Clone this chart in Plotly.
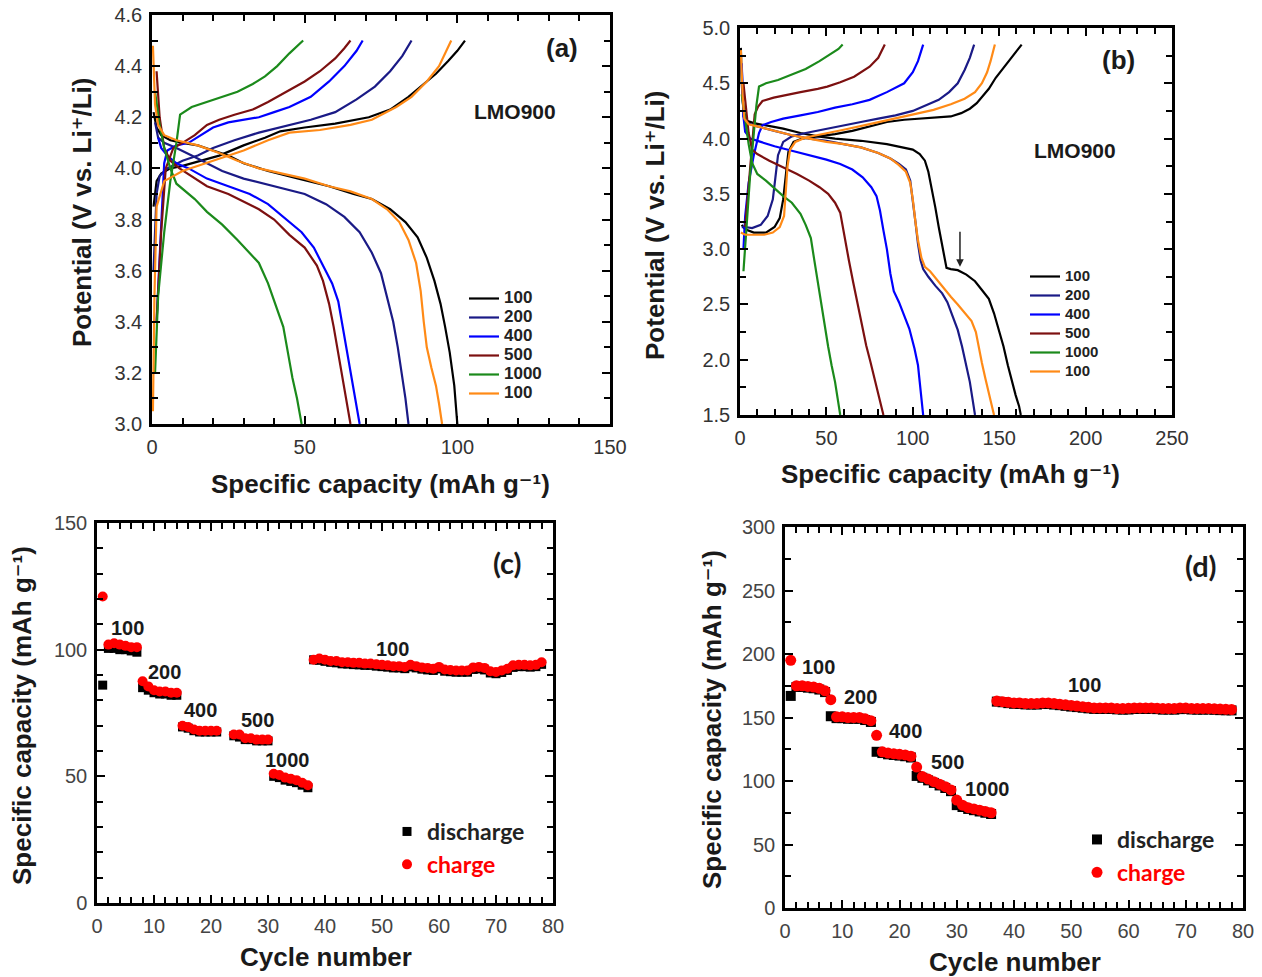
import plotly.graph_objects as go

W, H = 1262, 977

# ================= DATA =================
RATE_LABELS = ["100", "200", "400", "500", "1000", "100"]
LINE_COLORS = ["#000000", "#1a1a86", "#0000ff", "#7c1010", "#1b8a1b", "#ff8a16"]

# ---- panel (a): LMO900, 3.0-4.5 V ----
a_chg_100_x = [0.5, 1.5, 3, 6, 10, 16, 22, 30, 37, 42, 50, 60, 71, 78, 84, 89, 93, 97, 100, 102.5]
a_chg_100_y = [3.85, 3.95, 3.98, 4.0, 4.01, 4.03, 4.05, 4.09, 4.12, 4.145, 4.16, 4.175, 4.2, 4.23, 4.28, 4.33, 4.37, 4.42, 4.46, 4.5]
a_dis_100_x = [0.5, 1.5, 3, 6, 10, 15, 20, 25, 30, 38, 48, 58, 66, 72, 78, 83, 87, 90, 92.5, 94.5, 96, 97.5, 99, 100]
a_dis_100_y = [4.22, 4.16, 4.13, 4.11, 4.1, 4.09, 4.07, 4.05, 4.02, 3.99, 3.96, 3.93, 3.9, 3.88, 3.84, 3.79, 3.73, 3.65, 3.56, 3.47, 3.38, 3.28, 3.15, 3.0]

a_chg_200_x = [0.5, 1.5, 2.5, 5, 10, 15, 20, 27, 35, 45, 52, 60, 67, 73, 78, 82, 85]
a_chg_200_y = [3.6, 3.9, 3.97, 4.0, 4.03, 4.05, 4.08, 4.11, 4.14, 4.17, 4.19, 4.22, 4.27, 4.32, 4.38, 4.44, 4.5]
a_dis_200_x = [1, 2, 4, 8, 13, 18, 23, 30, 40, 50, 57, 63, 68, 72, 75, 77, 79, 80.5, 82, 83, 84]
a_dis_200_y = [4.18, 4.12, 4.1, 4.08, 4.05, 4.02, 3.99, 3.96, 3.93, 3.9, 3.86, 3.81, 3.75, 3.67, 3.59, 3.5, 3.4, 3.3, 3.18, 3.1, 3.0]

a_chg_400_x = [1.5, 3, 4, 5, 8, 12, 16, 20, 25, 30, 35, 40, 45, 52, 58, 63, 67, 69]
a_chg_400_y = [3.4, 3.75, 4.02, 4.07, 4.09, 4.1, 4.13, 4.16, 4.18, 4.19, 4.2, 4.22, 4.24, 4.28, 4.34, 4.4, 4.46, 4.5]
a_dis_400_x = [2, 3, 5, 8, 12, 18, 25, 32, 38, 44, 49, 53, 56, 59, 61, 62.5, 64, 65.5, 67, 68]
a_dis_400_y = [4.12, 4.08, 4.05, 4.02, 4.0, 3.96, 3.93, 3.9, 3.86, 3.8, 3.75, 3.69, 3.62, 3.55, 3.48, 3.38, 3.28, 3.18, 3.08, 3.0]

a_chg_500_x = [1.5, 3, 4.5, 7, 10, 14, 18, 22, 27, 33, 38, 44, 50, 55, 60, 63, 65]
a_chg_500_y = [3.4, 3.75, 4.0, 4.08, 4.1, 4.13, 4.17, 4.19, 4.21, 4.23, 4.26, 4.3, 4.34, 4.38, 4.43, 4.47, 4.5]
a_dis_500_x = [1.5, 2.5, 4, 6, 9, 13, 18, 25, 30, 35, 40, 45, 50, 54, 56, 58, 59.5, 61, 62.5, 64, 65]
a_dis_500_y = [4.38, 4.2, 4.08, 4.03, 4.0, 3.97, 3.93, 3.9, 3.87, 3.84, 3.8, 3.74, 3.69, 3.62, 3.56, 3.47, 3.38, 3.28, 3.18, 3.08, 3.0]

a_chg_1000_x = [1, 2, 4, 6, 8, 9.2, 13, 18, 23, 28, 33, 37, 41, 45, 49.5]
a_chg_1000_y = [3.2, 3.5, 3.75, 3.95, 4.1, 4.21, 4.24, 4.26, 4.28, 4.3, 4.33, 4.36, 4.4, 4.45, 4.5]
a_dis_1000_x = [1, 2.5, 4, 6, 8, 10, 14, 18, 23, 28, 32, 35, 38, 41, 43, 44.5, 46, 47.5, 49]
a_dis_1000_y = [4.3, 4.17, 4.08, 4.0, 3.94, 3.92, 3.88, 3.83, 3.78, 3.72, 3.67, 3.63, 3.55, 3.45, 3.38, 3.28, 3.18, 3.1, 3.0]

a_chg_100b_x = [0.3, 0.8, 1.5, 4, 10, 20, 30, 38, 45, 55, 65, 72, 80, 85, 90, 94, 98]
a_chg_100b_y = [3.05, 3.5, 3.85, 3.95, 3.99, 4.03, 4.07, 4.11, 4.14, 4.15, 4.17, 4.19, 4.24, 4.28, 4.34, 4.4, 4.5]
a_dis_100b_x = [0.3, 1, 2, 4, 8, 15, 22, 28, 35, 42, 50, 58, 65, 72, 77, 81, 84, 86.5, 88, 89, 90, 91.5, 93, 94, 95]
a_dis_100b_y = [4.48, 4.25, 4.17, 4.13, 4.11, 4.09, 4.06, 4.03, 4.0, 3.98, 3.96, 3.93, 3.91, 3.88, 3.84, 3.79, 3.72, 3.63, 3.52, 3.4, 3.3, 3.22, 3.15, 3.08, 3.0]

# ---- panel (b): LMO900, 1.5-4.85 V ----
b_chg_100_x = [1, 3, 8, 15, 20, 23, 25, 26.5, 28, 31, 36, 45, 55, 65, 75, 85, 95, 105, 115, 122, 128, 133, 137, 140, 144, 148, 153, 158, 163]
b_chg_100_y = [3.22, 3.18, 3.15, 3.15, 3.2, 3.28, 3.45, 3.7, 3.88, 3.97, 4.0, 4.02, 4.04, 4.07, 4.11, 4.15, 4.17, 4.18, 4.19, 4.2, 4.23, 4.27, 4.32, 4.38, 4.45, 4.55, 4.65, 4.75, 4.85]
b_dis_100_x = [0.5, 1, 2, 4, 8, 15, 25, 35, 45, 55, 70, 85, 95, 100, 104, 107, 109, 111, 113, 115, 117, 118.5, 119.5, 122, 126, 131, 136, 140, 144, 147, 150, 152.5, 155, 157, 159.5, 161.5, 162.5]
b_dis_100_y = [4.82, 4.5, 4.25, 4.16, 4.14, 4.12, 4.09, 4.05, 4.02, 4.0, 3.98, 3.95, 3.92, 3.9, 3.86, 3.8, 3.7, 3.55, 3.38, 3.2, 3.03, 2.88, 2.83, 2.82, 2.81, 2.77, 2.71, 2.63, 2.55, 2.42, 2.25, 2.12, 1.95, 1.82, 1.68, 1.58, 1.5]

b_chg_200_x = [1, 3, 7, 12, 16, 19, 20.5, 22, 25, 30, 38, 50, 60, 70, 80, 90, 100, 108, 115, 121, 126, 130, 133, 135.5]
b_chg_200_y = [3.2, 3.2, 3.19, 3.22, 3.3, 3.45, 3.65, 3.85, 3.97, 4.02, 4.05, 4.09, 4.12, 4.15, 4.18, 4.21, 4.25, 4.3, 4.35, 4.42, 4.5, 4.62, 4.73, 4.85]
b_dis_200_x = [1, 2, 4, 10, 20, 30, 40, 50, 60, 70, 80, 87, 92, 96, 98.5, 100, 101.5, 103, 104.5, 106, 109, 113, 117, 120, 123, 126, 128.5, 131, 133, 134.5, 136]
b_dis_200_y = [4.65, 4.2, 4.14, 4.11, 4.07, 4.03, 4.0, 3.98, 3.95, 3.92, 3.87, 3.82, 3.77, 3.72, 3.62, 3.45, 3.25, 3.05, 2.9, 2.82, 2.75, 2.67, 2.6, 2.52, 2.4, 2.27, 2.12, 1.95, 1.8, 1.65, 1.5]

b_chg_400_x = [2, 3, 5, 8, 11, 13, 18, 25, 35, 45, 55, 65, 75, 85, 95, 100, 103, 106]
b_chg_400_y = [3.0, 3.3, 3.6, 3.85, 4.05, 4.12, 4.15, 4.18, 4.21, 4.24, 4.28, 4.31, 4.35, 4.42, 4.5, 4.6, 4.7, 4.85]
b_dis_400_x = [1, 2, 3, 6, 12, 20, 30, 40, 50, 58, 65, 71, 76, 79, 81, 83, 85, 87, 89, 92, 95, 98, 101, 103, 104, 105, 106]
b_dis_400_y = [4.68, 4.2, 4.06, 4.0, 3.97, 3.93, 3.89, 3.85, 3.81, 3.77, 3.72, 3.65, 3.56, 3.48, 3.35, 3.17, 3.0, 2.78, 2.62, 2.52, 2.4, 2.28, 2.1, 1.95, 1.8, 1.65, 1.5]

b_chg_500_x = [3, 5, 7, 8.5, 10.5, 13, 19.5, 25, 35, 45, 50.5, 58, 66, 75, 80, 83.8]
b_chg_500_y = [3.2, 3.6, 4.0, 4.22, 4.29, 4.34, 4.37, 4.39, 4.42, 4.45, 4.47, 4.51, 4.56, 4.65, 4.73, 4.85]
b_dis_500_x = [2, 3.5, 5, 7, 10, 17, 25, 33, 40, 46, 51, 55, 58, 59.5, 61, 63, 65.5, 68, 70.5, 73, 75.5, 78, 80.5, 83]
b_dis_500_y = [4.5, 4.25, 4.05, 3.9, 3.86, 3.8, 3.74, 3.68, 3.62, 3.56, 3.5, 3.42, 3.33, 3.2, 3.05, 2.9, 2.7, 2.5, 2.3, 2.13, 1.98, 1.82, 1.68, 1.5]

b_chg_1000_x = [2, 4, 6, 8, 9.5, 11, 15, 22, 30.6, 38, 46, 50, 54, 57, 59.4]
b_chg_1000_y = [2.8, 3.3, 3.7, 4.05, 4.3, 4.47, 4.5, 4.53, 4.58, 4.63, 4.7, 4.74, 4.78, 4.81, 4.85]
b_dis_1000_x = [1, 3, 5, 7, 10, 15, 20, 25, 30, 35, 38, 41, 43, 45, 47, 49, 51, 53, 55, 56.5, 58]
b_dis_1000_y = [4.4, 4.15, 3.95, 3.78, 3.68, 3.62, 3.55, 3.48, 3.42, 3.32, 3.22, 3.1, 2.9, 2.7, 2.5, 2.3, 2.12, 1.95, 1.8, 1.65, 1.5]

b_chg_100b_x = [0.5, 3, 8, 14, 19, 23, 25.5, 26.5, 27.5, 29, 32, 38, 48, 60, 75, 90, 102, 112, 122, 130, 136, 140, 143, 145, 147.5]
b_chg_100b_y = [3.15, 3.13, 3.13, 3.13, 3.15, 3.2, 3.3, 3.5, 3.75, 3.9, 3.97, 4.01, 4.04, 4.08, 4.13, 4.18, 4.22, 4.26, 4.31, 4.36, 4.42, 4.5, 4.6, 4.7, 4.85]
b_dis_100b_x = [0.5, 1.5, 2.5, 5, 10, 20, 30, 40, 50, 60, 70, 80, 87, 92, 96, 98.5, 100, 101.5, 103, 105, 107, 110, 114, 118, 122, 126, 130, 134, 136.5, 138, 140, 142, 144, 146, 147]
b_dis_100b_y = [4.8, 4.4, 4.18, 4.13, 4.11, 4.07, 4.03, 4.0, 3.97, 3.95, 3.92, 3.87, 3.82, 3.76, 3.7, 3.6, 3.45, 3.25, 3.08, 2.92, 2.84, 2.8, 2.72, 2.64, 2.57, 2.5, 2.43, 2.35, 2.25, 2.12, 1.97, 1.83, 1.7, 1.58, 1.5]

# ---- panel (c): rate capability ----
c_cycle = [1, 2, 3, 4, 5, 6, 7,
           8, 9, 10, 11, 12, 13, 14,
           15, 16, 17, 18, 19, 20, 21,
           24, 25, 26, 27, 28, 29, 30,
           31, 32, 33, 34, 35, 36, 37,
           38, 39, 40, 41, 42, 43, 44, 45, 46, 47, 48, 49, 50, 51, 52, 53, 54, 55, 56, 57, 58,
           59, 60, 61, 62, 63, 64, 65, 66, 67, 68, 69, 70, 71, 72, 73, 74, 75, 76, 77, 78]
c_discharge = [86, 100.5, 100.5, 100, 100, 99.5, 99,
               85, 84, 83, 82.5, 82.5, 82, 82,
               69.5, 69, 68, 67.5, 67.5, 67.5, 67.5,
               66, 65.5, 64.5, 64.5, 64, 64, 64,
               50, 49.5, 48.5, 48, 47.5, 46.5, 45.5,
               96, 95.8, 95.4, 95, 94.8, 94.4, 94.3, 94.1, 94, 93.8, 93.8, 93.5, 93.3, 93.1, 92.8, 92.8, 92.5, 93.2, 92.8, 92.3, 92,
               91.8, 92.4, 91.5, 91.3, 91.1, 91.1, 91.1, 92.2, 92.4, 92, 90.8, 90.5, 91, 91.8, 93, 93.3, 93.3, 93.1, 93.3, 94.2]
c_charge = [121, 102, 102.5, 102, 101.5, 101, 101,
            87.5, 85.5, 84, 83.5, 83.5, 83, 83,
            70, 69.5, 68.5, 68, 68, 68, 68,
            66.5, 66.5, 65, 65, 64.5, 64.5, 64.5,
            51, 50.5, 49.5, 49, 48.5, 47.5, 46.5,
            96, 96.5, 96, 95.5, 95.5, 95, 95, 94.8, 94.8, 94.5, 94.5, 94.2, 94, 93.8, 93.5, 93.5, 93.2, 94, 93.5, 93, 92.8,
            92.5, 93.2, 92.2, 92, 91.8, 91.8, 91.8, 93, 93.2, 92.8, 91.5, 91.2, 91.8, 92.5, 93.8, 94, 94, 93.8, 94, 95]
c_rate_labels = ["100", "200", "400", "500", "1000", "100"]
c_rate_label_x = [5.4, 11.9, 18.1, 28.1, 33.5, 51.8]
c_rate_label_y = [108.6, 91.2, 76.2, 72.2, 56.5, 100.3]

# ---- panel (d): rate capability ----
d_cycle = [1, 2, 3, 4, 5, 6, 7,
           8, 9, 10, 11, 12, 13, 14, 15,
           16, 17, 18, 19, 20, 21, 22,
           23, 24, 25, 26, 27, 28, 29,
           30, 31, 32, 33, 34, 35, 36,
           37, 38, 39, 40, 41, 42, 43, 44, 45, 46, 47, 48, 49, 50, 51, 52, 53, 54, 55, 56, 57,
           58, 59, 60, 61, 62, 63, 64, 65, 66, 67, 68, 69, 70, 71, 72, 73, 74, 75, 76, 77, 78]
d_discharge = [167, 174, 174, 173.5, 173, 172, 170,
               151, 149.5, 149.5, 149, 149, 149, 148, 146.5,
               123, 122, 121, 120.5, 120, 119.5, 118.5,
               104, 102.5, 100.5, 98.5, 96.5, 94.5, 92,
               81, 79.5, 78, 77, 76, 75, 74,
               162.5, 162, 161.3, 160.8, 160.7, 160.3, 160.2, 160.2, 160.7, 160.6, 160.2, 159.7, 159.2, 158.6, 158.2, 157.7, 157.2, 156.8, 156.7, 156.8, 156.7,
               156.4, 156.2, 156.3, 156.7, 156.8, 156.7, 156.9, 156.6, 156.2, 156.3, 156.2, 156.6, 156.7, 156.3, 156.2, 156.2, 156.3, 156.1, 155.8, 155.7, 155.6]
d_charge = [195, 175, 175, 174.5, 174, 173, 171,
            164, 150.5, 150.5, 150, 150, 150, 149, 147.5,
            136, 123, 122, 121.5, 121, 120.5, 119.5,
            111, 103.5, 101.5, 99.5, 97.5, 95.5, 93,
            85, 81, 79, 78, 77, 76, 75,
            163, 162.5, 162, 161.5, 161.5, 161, 161, 161, 161.5, 161.5, 161, 160.5, 160, 159.5, 159, 158.5, 158, 157.5, 157.5, 157.5, 157.5,
            157, 157, 157.2, 157.5, 157.5, 157.5, 157.5, 157.3, 157, 157, 157, 157.5, 157.4, 157, 157, 157, 157, 156.8, 156.6, 156.5, 156.3]
d_rate_labels = ["100", "200", "400", "500", "1000", "100"]
d_rate_label_x = [5.8, 13.1, 21.0, 28.3, 35.3, 52.4]
d_rate_label_y = [189.8, 166.1, 139.4, 115.0, 93.7, 175.6]

# ================= FIGURE =================
def px_x(p):
    return p / W

def px_y(p):
    return 1 - p / H

ARIAL = "Arial, 'Liberation Sans', 'DejaVu Sans', sans-serif"
CALIBRI = "Lato, 'Open Sans', sans-serif"

fig = go.Figure()

a_curves = [
    (a_chg_100_x, a_chg_100_y, a_dis_100_x, a_dis_100_y),
    (a_chg_200_x, a_chg_200_y, a_dis_200_x, a_dis_200_y),
    (a_chg_400_x, a_chg_400_y, a_dis_400_x, a_dis_400_y),
    (a_chg_500_x, a_chg_500_y, a_dis_500_x, a_dis_500_y),
    (a_chg_1000_x, a_chg_1000_y, a_dis_1000_x, a_dis_1000_y),
    (a_chg_100b_x, a_chg_100b_y, a_dis_100b_x, a_dis_100b_y),
]
b_curves = [
    (b_chg_100_x, b_chg_100_y, b_dis_100_x, b_dis_100_y),
    (b_chg_200_x, b_chg_200_y, b_dis_200_x, b_dis_200_y),
    (b_chg_400_x, b_chg_400_y, b_dis_400_x, b_dis_400_y),
    (b_chg_500_x, b_chg_500_y, b_dis_500_x, b_dis_500_y),
    (b_chg_1000_x, b_chg_1000_y, b_dis_1000_x, b_dis_1000_y),
    (b_chg_100b_x, b_chg_100b_y, b_dis_100b_x, b_dis_100b_y),
]

for i, (cx, cy, dx, dy) in enumerate(a_curves):
    fig.add_trace(go.Scatter(x=cx, y=cy, mode="lines", xaxis="x", yaxis="y",
                             line=dict(color=LINE_COLORS[i], width=2.2), showlegend=False,
                             legendgroup="a%d" % i, legend="legend"))
    fig.add_trace(go.Scatter(x=dx, y=dy, mode="lines", xaxis="x", yaxis="y",
                             line=dict(color=LINE_COLORS[i], width=2.2),
                             name="<span style='font-size:17px'>%s</span>" % RATE_LABELS[i],
                             legendgroup="a%d" % i, legend="legend"))

for i, (cx, cy, dx, dy) in enumerate(b_curves):
    fig.add_trace(go.Scatter(x=cx, y=cy, mode="lines", xaxis="x2", yaxis="y2",
                             line=dict(color=LINE_COLORS[i], width=2.2), showlegend=False,
                             legendgroup="b%d" % i, legend="legend2"))
    fig.add_trace(go.Scatter(x=dx, y=dy, mode="lines", xaxis="x2", yaxis="y2",
                             line=dict(color=LINE_COLORS[i], width=2.2),
                             name="<span style='font-size:15px'>%s</span>" % RATE_LABELS[i],
                             legendgroup="b%d" % i, legend="legend2"))

# panel (c)
fig.add_trace(go.Scatter(x=c_cycle, y=c_discharge, mode="markers", xaxis="x3", yaxis="y3",
                         marker=dict(symbol="square", color="black", size=9),
                         name="discharge", legend="legend3"))
fig.add_trace(go.Scatter(x=c_cycle, y=c_charge, mode="markers", xaxis="x3", yaxis="y3",
                         marker=dict(symbol="circle", color="#ff0000", size=10),
                         name="<span style='color:#ff0000'>charge</span>", legend="legend3"))
# panel (d)
fig.add_trace(go.Scatter(x=d_cycle, y=d_discharge, mode="markers", xaxis="x4", yaxis="y4",
                         marker=dict(symbol="square", color="black", size=10),
                         name="discharge", legend="legend4"))
fig.add_trace(go.Scatter(x=d_cycle, y=d_charge, mode="markers", xaxis="x4", yaxis="y4",
                         marker=dict(symbol="circle", color="#ff0000", size=11),
                         name="<span style='color:#ff0000'>charge</span>", legend="legend4"))


def axis_style(domain, rng, dtick, minor_dtick, anchor, fmt=None, tickcolor_font="#333333"):
    d = dict(domain=domain, range=rng, dtick=dtick, tick0=rng[0], anchor=anchor,
             showline=True, linecolor="black", linewidth=2.5, mirror="ticks",
             ticks="inside", ticklen=8, tickwidth=2, tickcolor="black",
             minor=dict(dtick=minor_dtick, ticks="inside", ticklen=6, tickwidth=2, tickcolor="black"),
             showgrid=False, zeroline=False, ticklabelstandoff=3, automargin=False,
             tickfont=dict(family=ARIAL, size=20, color=tickcolor_font))
    if fmt:
        d["tickformat"] = fmt
    return d

layout = dict(
    template="none",
    width=W, height=H, autosize=False,
    margin=dict(l=0, r=0, t=0, b=0, pad=0, autoexpand=False),
    paper_bgcolor="white", plot_bgcolor="white",
    xaxis=axis_style([px_x(152), px_x(610)], [0, 150], 50, 10, "y"),
    yaxis=axis_style([px_y(424), px_y(15)], [3.0, 4.6], 0.2, 0.1, "x", ".1f"),
    xaxis2=axis_style([px_x(740), px_x(1172)], [0, 250], 50, 10, "y2"),
    yaxis2=axis_style([px_y(415), px_y(28)], [1.5, 5.0], 0.5, 0.25, "x2", ".1f"),
    xaxis3=axis_style([px_x(97), px_x(553)], [0, 80], 10, 2, "y3", None, "#444444"),
    yaxis3=axis_style([px_y(903), px_y(523)], [0, 150], 50, 10, "x3", None, "#444444"),
    xaxis4=axis_style([px_x(785), px_x(1243)], [0, 80], 10, 2, "y4", None, "#444444"),
    yaxis4=axis_style([px_y(908), px_y(527)], [0, 300], 50, 25, "x4", None, "#444444"),
    legend=dict(x=px_x(464), y=px_y(284), xanchor="left", yanchor="top", bgcolor="rgba(0,0,0,0)",
                font=dict(family=ARIAL, size=12, color="#222222", weight="bold"),
                traceorder="normal", tracegroupgap=0, itemwidth=30),
    legend2=dict(x=px_x(1025), y=px_y(262), xanchor="left", yanchor="top", bgcolor="rgba(0,0,0,0)",
                 font=dict(family=ARIAL, size=11, color="#222222", weight="bold"),
                 traceorder="normal", tracegroupgap=0, itemwidth=30),
    legend3=dict(x=px_x(387), y=px_y(810), xanchor="left", yanchor="top", bgcolor="rgba(0,0,0,0)",
                 font=dict(family=CALIBRI, size=23, color="#222222", weight="bold"),
                 traceorder="normal", itemwidth=30),
    legend4=dict(x=px_x(1077), y=px_y(818), xanchor="left", yanchor="top", bgcolor="rgba(0,0,0,0)",
                 font=dict(family=CALIBRI, size=23, color="#222222", weight="bold"),
                 traceorder="normal", itemwidth=30),
)
fig.update_layout(**layout)

TITLE_FONT = dict(family=ARIAL, size=26, color="#1a1a1a", weight="bold")
cap_title = "Specific capacity (mAh g\u207b\u00b9)"
pot_title = "Potential (V vs. Li\u207a/Li)"
ann = []
# axis titles
ann.append(dict(x=px_x(380), y=px_y(484), text=cap_title, font=TITLE_FONT))
ann.append(dict(x=px_x(82), y=px_y(213), text=pot_title, font=TITLE_FONT, textangle=-90))
ann.append(dict(x=px_x(950), y=px_y(474), text=cap_title, font=TITLE_FONT))
ann.append(dict(x=px_x(655), y=px_y(226), text=pot_title, font=TITLE_FONT, textangle=-90))
ann.append(dict(x=px_x(326), y=px_y(957), text="Cycle number", font=TITLE_FONT))
ann.append(dict(x=px_x(22), y=px_y(716), text=cap_title, font=TITLE_FONT, textangle=-90))
ann.append(dict(x=px_x(1015), y=px_y(962), text="Cycle number", font=TITLE_FONT))
ann.append(dict(x=px_x(712), y=px_y(719), text=cap_title, font=TITLE_FONT, textangle=-90))
# panel labels
ann.append(dict(x=px_x(562), y=px_y(48), text="(a)", font=dict(family=ARIAL, size=26, color="#1a1a1a", weight="bold")))
ann.append(dict(x=px_x(1118), y=px_y(60), text="(b)", font=dict(family=ARIAL, size=26, color="#1a1a1a", weight="bold")))
ann.append(dict(x=px_x(507), y=px_y(562), text="(c)", font=dict(family=CALIBRI, size=29, color="#1a1a1a", weight="bold")))
ann.append(dict(x=px_x(1201), y=px_y(565), text="(d)", font=dict(family=CALIBRI, size=29, color="#1a1a1a", weight="bold")))
ann.append(dict(x=px_x(515), y=px_y(112), text="LMO900", font=dict(family=ARIAL, size=21, color="#1a1a1a", weight="bold")))
ann.append(dict(x=px_x(1075), y=px_y(151), text="LMO900", font=dict(family=ARIAL, size=21, color="#1a1a1a", weight="bold")))
for a in ann:
    a.update(xref="paper", yref="paper", showarrow=False, xanchor="center", yanchor="middle")

for t, x, y in zip(c_rate_labels, c_rate_label_x, c_rate_label_y):
    ann.append(dict(x=x, y=y, xref="x3", yref="y3", text=t, showarrow=False,
                    font=dict(family=ARIAL, size=20, color="#1a1a1a", weight="bold")))
for t, x, y in zip(d_rate_labels, d_rate_label_x, d_rate_label_y):
    ann.append(dict(x=x, y=y, xref="x4", yref="y4", text=t, showarrow=False,
                    font=dict(family=ARIAL, size=20, color="#1a1a1a", weight="bold")))

# arrow in panel (b)
ann.append(dict(x=127.3, y=2.84, ax=127.3, ay=3.17, xref="x2", yref="y2", axref="x2", ayref="y2",
                showarrow=True, arrowhead=2, arrowsize=1, arrowwidth=1.5, arrowcolor="#222222", text=""))

fig.update_layout(annotations=ann)
fig.write_html("out.html")
